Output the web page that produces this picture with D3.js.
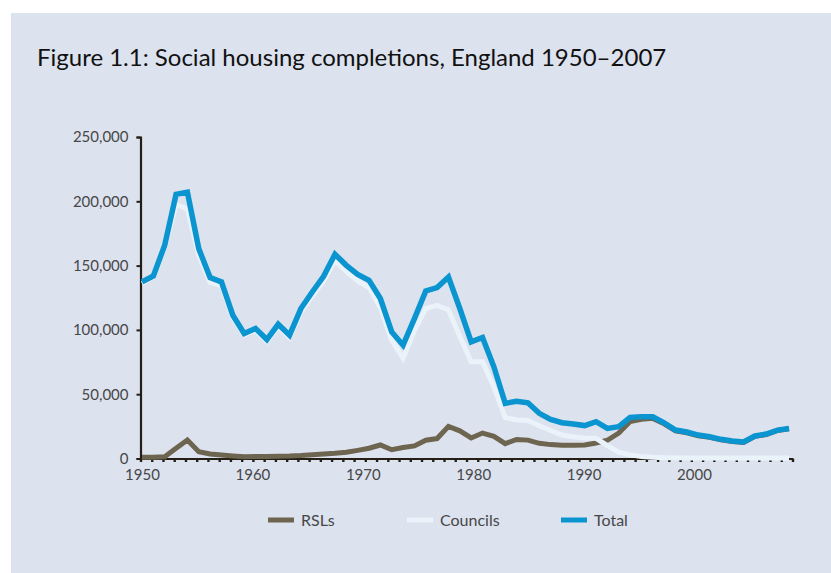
<!DOCTYPE html>
<html>
<head>
<meta charset="utf-8">
<script src="https://cdn.jsdelivr.net/npm/d3@7"></script>
<style>
  html, body { margin: 0; padding: 0; background: #fff; }
  svg { display: block; }
  text { font-family: Lato, "Open Sans", sans-serif; }
</style>
</head>
<body>
<svg id="chart" width="831" height="573"></svg>
<script>
// Social housing completions, England, one value per year 1950-2007
const years = d3.range(1950, 2008);

const rsls = [
  900, 900, 1300, 7900, 14400, 5300, 3500, 2700, 2000, 1300,
  1500, 1500, 1800, 1900, 2300, 3000, 3500, 4000, 4800, 6300,
  8000, 10500, 6800, 8500, 9800, 14200, 15500, 25000, 21500, 16000,
  19800, 17200, 11500, 14800, 14300, 11800, 10800, 10300, 10400, 10500,
  12000, 14200, 19800, 28800, 30500, 31200, 27000, 21500, 20000, 17700,
  16500, 14500, 13200, 12500, 17200, 18700, 21800, 23100
];

const councils = [
  136000, 141000, 164000, 197500, 194000, 158000, 137000, 134500, 109500, 96000,
  99500, 91000, 102500, 94000, 114000, 126500, 138000, 154000, 145500, 138000,
  133000, 117500, 92000, 78000, 99500, 116500, 119000, 115500, 94800, 75200,
  75200, 55700, 31800, 30000, 29500, 25500, 21800, 18300, 16900, 16000,
  15700, 10000, 5000, 2800, 1500, 900, 600, 500, 400, 400,
  400, 300, 300, 300, 300, 300, 300, 300
];

const total = [
  137300, 141900, 165800, 205400, 207100, 163200, 140700, 137300, 111400, 97200,
  101100, 92500, 104400, 95900, 116600, 129500, 141700, 158800, 150200, 143200,
  138600, 124400, 98400, 88100, 108800, 130300, 132900, 141100, 116600, 90700,
  94100, 71300, 42900, 44500, 43300, 35100, 30400, 27800, 26800, 25600,
  28600, 23400, 24700, 32000, 32500, 32500, 27800, 22100, 20600, 18200,
  16900, 14900, 13600, 12800, 17500, 19000, 22100, 23400
];

const yTicks = [0, 50000, 100000, 150000, 200000, 250000];
const xLabels = [1950, 1960, 1970, 1980, 1990, 2000];

const series = [
  { name: "RSLs", values: rsls, color: "#6e6551", width: 5 },
  { name: "Councils", values: councils, color: "#eaf2fa", width: 5 },
  { name: "Total", values: total, color: "#0a94d0", width: 5.5 }
];

const svg = d3.select("#chart");

// panel background
svg.append("rect")
  .attr("x", 11).attr("y", 13)
  .attr("width", 820).attr("height", 560)
  .attr("fill", "#dce2ee");

svg.append("text")
  .attr("x", 37).attr("y", 66)
  .attr("font-size", 24)
  .attr("fill", "#111")
  .text("Figure 1.1: Social housing completions, England 1950\u20132007");

// scales
const x = d3.scaleLinear().domain([1950, 2007]).range([142, 789]);
const xTick = d3.scaleLinear().domain([1950, 2008]).range([140.5, 792.5]);
const xLabel = d3.scaleLinear().domain([1950, 2000]).range([142, 694]);
const y = d3.scaleLinear().domain([0, 250000]).range([458.5, 137]);

const axisColor = "#241f15";
const labelColor = "#474747";

// y axis
const yAxis = svg.append("g")
  .attr("transform", "translate(140.5,0)")
  .call(d3.axisLeft(y).tickValues(yTicks).tickSize(4).tickPadding(8)
    .tickFormat(d3.format(",")));
yAxis.select(".domain").attr("stroke", axisColor).attr("stroke-width", 2.2);
yAxis.selectAll(".tick line").attr("stroke", axisColor).attr("stroke-width", 2);
yAxis.selectAll(".tick text")
  .attr("font-size", 15).attr("fill", labelColor)
  .attr("font-family", "Lato, sans-serif");

// x axis: line + year tick marks
const xAxis = svg.append("g")
  .attr("transform", "translate(0,458.5)")
  .call(d3.axisBottom(xTick).tickValues(d3.range(1950, 2009)).tickSize(3.5)
    .tickSizeOuter(0).tickFormat(""));
xAxis.select(".domain").attr("stroke", axisColor).attr("stroke-width", 2.2);
xAxis.selectAll(".tick line").attr("stroke", axisColor).attr("stroke-width", 2.4);

// x labels
const xLab = svg.append("g")
  .attr("transform", "translate(0,458.5)")
  .call(d3.axisBottom(xLabel).tickValues(xLabels).tickSize(0).tickPadding(11)
    .tickFormat(d3.format("d")));
xLab.select(".domain").remove();
xLab.selectAll(".tick text")
  .attr("font-size", 15).attr("fill", labelColor)
  .attr("font-family", "Lato, sans-serif");

// lines
const line = d3.line()
  .x((d, i) => x(years[i]))
  .y(d => y(d));

svg.append("g")
  .selectAll("path")
  .data(series)
  .join("path")
  .attr("d", d => line(d.values))
  .attr("fill", "none")
  .attr("stroke", d => d.color)
  .attr("stroke-width", d => d.width)
  .attr("stroke-linejoin", "miter")
  .attr("stroke-miterlimit", 3);

// legend
const legendX = [268, 407, 561];
const legend = svg.append("g")
  .selectAll("g")
  .data(series)
  .join("g")
  .attr("transform", (d, i) => `translate(${legendX[i]},520)`);

legend.append("rect")
  .attr("x", 0).attr("y", -2.5)
  .attr("width", 26).attr("height", 5)
  .attr("fill", d => d.color);

legend.append("text")
  .attr("x", 33).attr("y", 6)
  .attr("font-size", 16).attr("fill", labelColor)
  .text(d => d.name);
</script>
</body>
</html>
